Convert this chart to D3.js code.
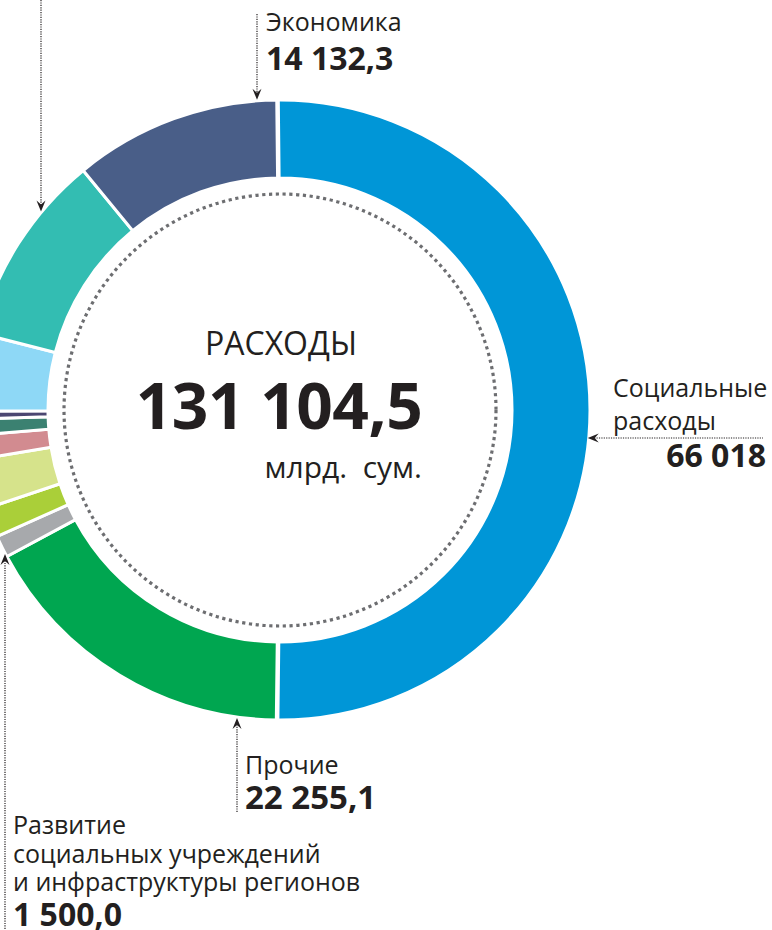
<!DOCTYPE html>
<html><head><meta charset="utf-8">
<script src="https://cdn.jsdelivr.net/npm/d3@7"></script>
<style>
html,body{margin:0;padding:0;background:#fff;}
svg{display:block;}
text{font-family:"Open Sans","Noto Sans",sans-serif;fill:#231f20;}
</style></head>
<body>
<svg id="chart" width="772" height="930"></svg>
<script>
// ---- data ----
const categories = ["Социальные расходы","Прочие","Развитие социальных учреждений и инфраструктуры регионов","Сегмент 4","Сегмент 5","Сегмент 6","Сегмент 7","Сегмент 8","Сегмент 9","Сегмент 10","Экономика"];
const values = [66018, 22255.1, 1500, 2020, 3380, 1650, 1110, 540, 5300, 13199.1, 14132.3];
const colors = ["#0096d7","#00a650","#a7a9ac","#aacf39","#d6e38b","#d28b90","#3b8171","#4b4671","#8ed8f6","#33bdb2","#495e88"];
const totalTitle = "РАСХОДЫ";
const totalValue = "131 104,5";
const totalUnit = "млрд.  сум.";
const labelEcon = ["Экономика"], valueEcon = "14 132,3";
const labelSocial = ["Социальные","расходы"], valueSocial = "66 018";
const labelOther = ["Прочие"], valueOther = "22 255,1";
const labelDev = ["Развитие","социальных учреждений","и инфраструктуры регионов"], valueDev = "1 500,0";

// ---- layout ----
const svg = d3.select("#chart");
const cx = 280, cy = 410, rOuter = 310, rInner = 232, rDots = 216;
const start = -0.6 * Math.PI / 180;

const pie = d3.pie().sort(null).value(d => d).startAngle(start).endAngle(start + 2*Math.PI);
const arcs = pie(values);
const arc = d3.arc().innerRadius(rInner).outerRadius(rOuter)
  .padAngle(d => d.index === 0 ? 0.008 : 0);

const g = svg.append("g").attr("transform", `translate(${cx},${cy})`);
g.selectAll("path.slice").data(arcs).join("path")
  .attr("class","slice")
  .attr("d", arc)
  .attr("fill", (d,i) => colors[i])
  .attr("stroke", "#fff")
  .attr("stroke-width", 3)
  .attr("stroke-linejoin","miter");

// dotted inner circle
g.append("circle").attr("r", rDots).attr("fill","none")
  .attr("stroke","#6d6e71").attr("stroke-width",3.2)
  .attr("stroke-dasharray","3.2 3.6");

// center texts
g.append("text").attr("x",1).attr("y",-55).attr("text-anchor","middle")
  .attr("font-size",32).text(totalTitle);
g.append("text").attr("x",-1).attr("y",19).attr("text-anchor","middle")
  .attr("font-size",64).attr("font-weight",700).attr("letter-spacing",-0.5).text(totalValue);
g.append("text").attr("x",142).attr("y",68).attr("text-anchor","end")
  .attr("font-size",30).attr("xml:space","preserve").text(totalUnit);

// leader helpers
const dotted = {stroke:"#231f20","stroke-width":1.2,"stroke-dasharray":"1.2 1.2"};
function vline(x, y0, y1){
  const l = svg.append("line").attr("x1",x).attr("x2",x).attr("y1",y0).attr("y2",y1);
  Object.entries(dotted).forEach(([k,v])=>l.attr(k,v));
}
function hline(y, x0, x1){
  const l = svg.append("line").attr("y1",y).attr("y2",y).attr("x1",x0).attr("x2",x1);
  Object.entries(dotted).forEach(([k,v])=>l.attr(k,v));
}
function arrow(x, y, dir){ // dir: "down","up","left"
  const rot = {down:0, up:180, left:90}[dir];
  svg.append("path").attr("d","M0,0 L-4.5,-11 L0,-7 L4.5,-11 Z")
    .attr("fill","#231f20")
    .attr("transform",`translate(${x},${y}) rotate(${rot})`);
}
const outerY = (x, sign) => cy + sign*Math.sqrt(rOuter*rOuter - (x-cx)*(x-cx));
const outerX = (y) => cx + Math.sqrt(rOuter*rOuter - (y-cy)*(y-cy));

// teal segment leader (label outside view)
{ const x = 41, y = outerY(x,-1) - 1; vline(x, 0, y-4); arrow(x, y, "down"); }

// Экономика
{ const x = 257, y = outerY(x,-1) - 1; vline(x, 14, y-4); arrow(x, y, "down");
  svg.append("text").attr("x",266).attr("y",31).attr("font-size",25).text(labelEcon[0]);
  svg.append("text").attr("x",266).attr("y",70).attr("font-size",32).attr("font-weight",700).text(valueEcon);
}
// Социальные расходы
{ const y = 438, x = outerX(y) - 1; hline(y, x+4, 763); arrow(x, y, "left");
  labelSocial.forEach((t,i)=> svg.append("text").attr("x",613).attr("y",397+i*33).attr("font-size",25).text(t));
  svg.append("text").attr("x",766).attr("y",467).attr("text-anchor","end").attr("font-size",32).attr("font-weight",700).text(valueSocial);
}
// Прочие
{ const x = 237, y = outerY(x,1) + 1; vline(x, y+4, 812); arrow(x, y, "up");
  svg.append("text").attr("x",245).attr("y",774).attr("font-size",25).text(labelOther[0]);
  svg.append("text").attr("x",245).attr("y",809).attr("font-size",33).attr("font-weight",700).text(valueOther);
}
// Развитие ...
{ const x = 5, y = outerY(x,1) + 1; vline(x, y+4, 930); arrow(x, y, "up");
  labelDev.forEach((t,i)=> svg.append("text").attr("x",13).attr("y",834+i*28.5).attr("font-size",25).text(t));
  svg.append("text").attr("x",13).attr("y",926).attr("font-size",32).attr("font-weight",700).text(valueDev);
}
</script>
</body></html>
